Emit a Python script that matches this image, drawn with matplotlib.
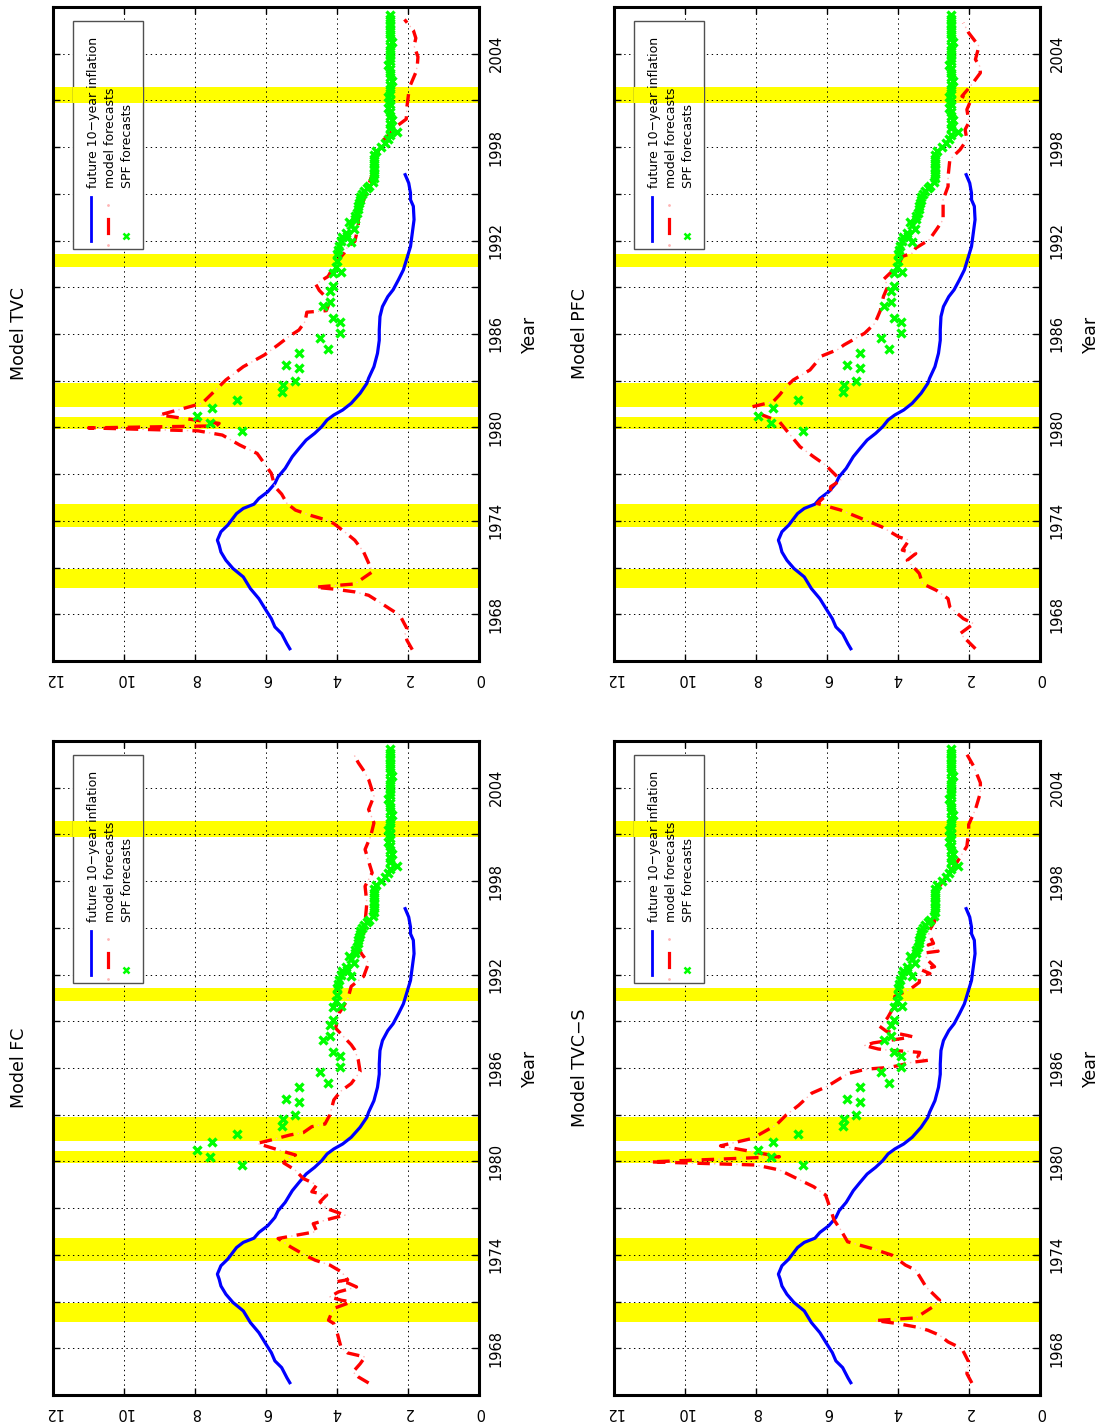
import numpy as np
import matplotlib.pyplot as plt
import matplotlib.transforms as mtransforms
from matplotlib.patches import Rectangle

plt.rcParams['lines.scale_dashes'] = False
plt.rcParams['font.family'] = 'DejaVu Sans'

# recession bands (years)
recession_start = [1969.67, 1973.6, 1979.9, 1981.33, 1990.33, 2000.84]
recession_end = [1970.92, 1975.1, 1980.65, 1982.87, 1991.15, 2001.87]

# realised average inflation over the following 10 years
future_years = [1965.79, 1966.1, 1966.76, 1967.19, 1967.72, 1968.26, 1969.0, 1969.65, 1970.4,
                1970.94, 1971.47, 1972.0, 1972.44, 1972.76, 1973.3, 1973.72, 1974.47, 1974.8,
                1975.07, 1975.44, 1975.87, 1976.4, 1976.83, 1977.37, 1978.12, 1978.65, 1979.19,
                1979.62, 1980.05, 1980.48, 1980.8, 1981.12, 1981.55, 1982.19, 1982.83, 1983.16,
                1983.9, 1984.76, 1985.6, 1986.26, 1987.12, 1987.76, 1988.4, 1988.84, 1989.48,
                1990.12, 1990.87, 1991.62, 1992.48, 1993.34, 1994.2, 1994.62, 1995.05, 1995.69,
                1996.23]
future_infl = [5.33, 5.41, 5.56, 5.75, 5.85, 6.0, 6.2, 6.44, 6.64,
               6.93, 7.13, 7.27, 7.32, 7.37, 7.27, 7.08, 6.83, 6.64,
               6.34, 6.2, 5.95, 5.75, 5.66, 5.46, 5.26, 5.07, 4.87,
               4.63, 4.43, 4.28, 4.09, 3.84, 3.6, 3.35, 3.16, 3.11,
               2.96, 2.86, 2.81, 2.81, 2.79, 2.72, 2.57, 2.42, 2.27,
               2.13, 2.03, 1.93, 1.88, 1.83, 1.85, 1.93, 1.93, 1.98,
               2.08]

# SPF long-run forecasts
spf_years = [1979.79, 1980.26, 1980.75, 1981.27, 1981.76, 1982.26, 1982.73, 1983.0, 1983.8,
             1984.0, 1984.77, 1985.06, 1985.77, 1986.05, 1986.78, 1987.0, 1987.82, 1988.07,
             1988.78, 1989.06, 1989.9, 1990.0, 1990.28, 1990.71, 1991.13, 1991.4, 1991.67,
             1991.9, 1992.0, 1992.2, 1992.3, 1992.5, 1992.75, 1993.0, 1993.2, 1993.4, 1993.6,
             1993.8, 1994.0, 1994.2, 1994.4, 1994.6, 1994.8, 1995.0, 1995.2, 1995.4, 1995.5,
             1995.75, 1996.0, 1996.25, 1996.5, 1996.75, 1997.0, 1997.25, 1997.5, 1997.75,
             1998.0, 1998.25, 1998.5, 1998.75, 1999.0, 1999.25, 1999.5, 1999.75, 2000.0,
             2000.25, 2000.5, 2000.75, 2001.0, 2001.25, 2001.5, 2001.75, 2002.0, 2002.25,
             2002.5, 2002.75, 2003.0, 2003.25, 2003.5, 2003.75, 2004.0, 2004.25, 2004.5,
             2004.75, 2005.0, 2005.25, 2005.5, 2005.75, 2006.0, 2006.25, 2006.5]
spf_values = [6.69, 7.57, 7.94, 7.52, 6.83, 5.56, 5.51, 5.19, 5.08,
              5.45, 5.08, 4.26, 4.47, 3.92, 3.92, 4.11, 4.4, 4.21,
              4.21, 4.1, 4.1, 3.88, 4.03, 4.0, 3.99, 3.97, 3.94,
              3.61, 3.9, 3.86, 3.71, 3.75, 3.51, 3.6, 3.65, 3.5, 3.48,
              3.45, 3.42, 3.4, 3.38, 3.36, 3.34, 3.3, 3.25, 3.15, 3.1,
              3.0, 2.97, 2.97, 2.97, 2.97, 2.97, 2.95, 2.95, 2.9,
              2.75, 2.65, 2.55, 2.5, 2.3, 2.5, 2.5, 2.45, 2.5,
              2.5, 2.55, 2.5, 2.5, 2.55, 2.5, 2.5, 2.5, 2.45,
              2.5, 2.5, 2.5, 2.55, 2.5, 2.5, 2.5, 2.5, 2.5,
              2.45, 2.5, 2.5, 2.5, 2.5, 2.5, 2.5, 2.5]

# model forecasts
fc_years = [1965.77, 1966.16, 1966.48, 1967.0, 1967.44, 1967.7, 1968.09, 1968.94, 1969.59,
            1969.8, 1970.55, 1970.98, 1971.08, 1971.3, 1971.62, 1971.94, 1972.2, 1972.28,
            1972.4, 1972.9, 1973.34, 1973.66, 1973.98, 1974.5, 1975.05, 1975.5, 1976.0,
            1976.34, 1976.55, 1976.97, 1977.4, 1977.84, 1978.05, 1978.5, 1978.9, 1979.45,
            1979.9, 1980.2, 1980.41, 1980.7, 1981.16, 1981.38, 1981.7, 1981.85, 1982.23,
            1982.4, 1983.0, 1983.95, 1984.5, 1985.0, 1985.77, 1986.5, 1987.16, 1987.49,
            1988.56, 1989.52, 1990.4, 1991.24, 1991.88, 1992.74, 1993.3, 1993.92, 1994.67,
            1995.6, 1996.6, 1997.67, 1998.53, 1999.2, 2000.03, 2000.9, 2001.74, 2002.6,
            2003.46, 2004.53, 2005.1, 2005.6, 2006.24]
fc_values = [3.11, 3.4, 3.55, 3.35, 3.21, 3.7, 3.89, 3.99, 4.09,
             4.24, 4.1, 3.59, 3.87, 4.2, 3.96, 3.45, 3.7, 4.0,
             3.7, 3.87, 4.2, 4.62, 4.9, 5.3, 5.66, 4.57, 4.67,
             4.15, 3.77, 4.29, 4.48, 4.29, 4.71, 4.57, 4.95, 5.18,
             5.5, 5.4, 5.17, 5.6, 6.25, 5.85, 5.32, 4.95, 4.71,
             4.34, 4.2, 4.09, 3.9, 3.6, 3.35, 3.4, 3.5, 3.6,
             4.04, 3.94, 3.7, 3.6, 3.25, 3.11, 3.3, 3.45, 3.25,
             3.2, 3.16, 3.21, 3.01, 3.1, 3.21, 3.05, 2.96, 3.11,
             2.96, 3.11, 3.25, 3.4, 3.55]

tvc_years = [1965.73, 1966.33, 1966.76, 1967.08, 1967.94, 1968.36, 1968.79, 1969.22, 1969.44,
             1969.62, 1969.74, 1969.95, 1970.72, 1971.04, 1972.0, 1972.76, 1973.23, 1973.83,
             1974.04, 1974.37, 1974.69, 1975.12, 1975.72, 1976.19, 1977.05, 1977.69, 1978.33,
             1978.87, 1979.51, 1979.78, 1979.97, 1980.1, 1980.26, 1980.8, 1981.55, 1982.4,
             1983.05, 1983.9, 1984.65, 1985.3, 1985.83, 1986.26, 1986.8, 1987.4, 1987.5,
             1988.1, 1988.8, 1989.2, 1989.7, 1990.55, 1991.2, 1991.6, 1991.95, 1992.9,
             1993.7, 1994.6, 1995.3, 1996.3, 1997.3, 1998.3, 1998.9, 1999.34, 1999.8,
             2000.6, 2001.5, 2002.0, 2002.8, 2003.2, 2003.8, 2004.5, 2005.0, 2005.5, 2006.2]
tvc_values = [1.88, 2.03, 2.08, 2.03, 2.23, 2.52, 2.81, 3.11, 3.5,
              4.09, 4.63, 3.5, 3.01, 3.06, 3.25, 3.5, 3.75, 4.09,
              4.28, 4.77, 5.17, 5.41, 5.56, 5.75, 5.85, 6.05, 6.25,
              6.74, 7.23, 7.91, 11.0, 7.4, 7.32, 9.0, 7.8, 7.42,
              7.13, 6.64, 6.05, 5.66, 5.36, 5.07, 4.9, 4.85, 4.3,
              4.2, 4.5, 4.6, 4.25, 4.04, 3.8, 3.7, 3.5, 3.4,
              3.4, 3.25, 3.15, 3.0, 2.9, 2.76, 2.5, 2.32, 2.05,
              2.03, 1.98, 1.93, 1.78, 1.74, 1.72, 1.83, 1.78, 1.85, 2.1]

pfc_years = [1965.79, 1966.22, 1966.76, 1967.4, 1967.72, 1968.47, 1969.0, 1969.54, 1969.97,
             1970.62, 1971.47, 1971.9, 1972.12, 1972.76, 1972.97, 1973.62, 1974.15, 1974.69,
             1975.12, 1975.87, 1976.19, 1976.62, 1976.83, 1977.58, 1978.12, 1978.76, 1979.83,
             1980.37, 1980.8, 1981.33, 1981.65, 1982.08, 1982.62, 1983.05, 1983.69, 1984.23,
             1984.55, 1985.0, 1985.3, 1986.05, 1986.69, 1987.5, 1988.41, 1989.0, 1989.26,
             1989.5, 1990.44, 1990.98, 1991.19, 1991.52, 1992.05, 1992.7, 1993.34, 1993.98,
             1994.62, 1995.48, 1996.12, 1997.2, 1997.84, 1998.48, 1999.13, 1999.6, 2000.41,
             2001.0, 2001.27, 2001.91, 2002.77, 2003.2, 2003.63, 2004.48, 2005.34, 2005.98]
pfc_values = [1.82, 2.01, 2.25, 1.87, 2.16, 2.54, 2.59, 2.92, 3.31,
              3.4, 3.74, 3.5, 3.88, 3.69, 3.98, 4.46, 5.03, 5.61,
              6.28, 5.9, 5.9, 5.61, 5.71, 6.04, 6.38, 6.76, 7.15,
              7.34, 7.82, 8.1, 7.52, 7.34, 7.15, 6.95, 6.48, 6.28,
              6.19, 5.7, 5.52, 4.94, 4.65, 4.5, 4.41, 4.3, 4.32,
              4.41, 3.98, 3.88, 3.6, 3.5, 3.12, 2.92, 2.73, 2.73,
              2.73, 2.59, 2.59, 2.54, 2.25, 2.06, 2.11, 2.0, 2.06,
              1.95, 2.2, 1.96, 1.68, 1.7, 1.82, 1.72, 2.01, 2.16]

tvcs_years = [1965.77, 1966.37, 1967.12, 1967.98, 1968.41, 1968.84, 1969.16, 1969.37, 1969.59,
              1969.78, 1969.95, 1970.66, 1971.09, 1971.94, 1973.02, 1973.34, 1973.98, 1974.41,
              1974.84, 1975.59, 1976.23, 1977.52, 1977.84, 1978.38, 1978.8, 1979.45, 1979.77,
              1979.97, 1980.3, 1981.0, 1981.48, 1982.34, 1982.98, 1983.6, 1984.38, 1984.81,
              1985.64, 1985.85, 1985.94, 1986.04, 1986.2, 1986.36, 1986.49, 1986.71, 1987.0,
              1987.07, 1987.13, 1987.22, 1987.44, 1987.61, 1988.0, 1988.08, 1988.36, 1988.68,
              1989.2, 1990.0, 1990.6, 1991.04, 1991.5, 1991.9, 1992.06, 1992.3, 1992.5,
              1993.0, 1993.4, 1993.5, 1993.9, 1994.0, 1994.7, 1995.4, 1996.38, 1997.67,
              1998.31, 1999.17, 2000.24, 2001.2, 2001.63, 2002.6, 2003.67, 2004.31, 2005.38,
              2006.14]
tvcs_values = [1.92, 2.06, 2.01, 2.2, 2.59, 2.83, 3.16, 3.5, 4.02,
               4.65, 3.5, 3.02, 2.83, 3.21, 3.5, 3.79, 4.17, 4.74,
               5.42, 5.61, 5.8, 5.99, 6.04, 6.38, 6.76, 7.34, 8.01,
               10.98, 7.34, 9.0, 8.1, 7.43, 7.15, 6.8, 6.43, 6.0,
               5.41, 5.03, 4.8, 4.23, 3.9, 3.62, 3.16, 3.44, 3.39,
               3.76, 4.23, 4.56, 4.94, 4.7, 3.58, 3.72, 4.33, 4.52,
               4.3, 4.1, 4.09, 3.67, 3.4, 3.39, 3.1, 3.34, 2.97,
               3.2, 3.2, 2.87, 3.15, 3.0, 3.15, 2.97, 2.92, 2.83,
               2.64, 2.35, 2.06, 2.01, 2.01, 1.82, 1.68, 1.68, 1.87,
               2.06]

infl_ticks = [0, 2, 4, 6, 8, 10, 12]
year_ticks = [1968, 1971, 1974, 1977, 1980, 1983, 1986, 1989, 1992, 1995, 1998, 2001, 2004]
year_labels = ['1968', '', '1974', '', '1980', '', '1986', '', '1992', '', '1998', '', '2004']
legend_labels = ['future 10\u2212year inflation', 'model forecasts', 'SPF forecasts']


def draw_panel(ax, title, model_years, model_values):
    ax.set_xlim(12, 0)
    ax.set_ylim(1965.0, 2007.0)
    for s, e in zip(recession_start, recession_end):
        ax.axhspan(s, e, color='#ffff00', lw=0, zorder=1)

    ax.plot(future_infl, future_years, color='#0000ff', lw=2.3, zorder=3)
    ax.plot(model_values, model_years, color='#ffb4b4', lw=1.0, ls=(4, (1, 15)), zorder=3)
    ax.plot(model_values, model_years, color='#ff0000', lw=2.4, ls=(0, (9, 7)), zorder=4)
    ax.plot(spf_values, spf_years, ls='none', marker='x', ms=6.3, mew=2.4,
            color='#00ff00', zorder=5)

    ax.set_xticks(infl_ticks)
    ax.set_xticklabels([str(v) for v in infl_ticks], rotation=180)
    ax.set_yticks(year_ticks)
    ax.set_yticklabels(year_labels, rotation=90, va='center')
    ax.yaxis.tick_right()
    ax.tick_params(axis='y', direction='in', left=True, right=True, labelsize=10.5,
                   pad=7, length=5, width=1)
    ax.tick_params(axis='x', direction='in', top=True, bottom=True, labelsize=10.5,
                   pad=7, length=5, width=1)
    ax.grid(True, color='black', ls=(0, (1, 2.5)), lw=0.7)
    for sp in ax.spines.values():
        sp.set_linewidth(2.2)

    ax.text(-0.08, 0.5, title, transform=ax.transAxes, rotation=90,
            ha='center', va='center', fontsize=12.5)
    ax.text(1.12, 0.5, 'Year', transform=ax.transAxes, rotation=90,
            ha='center', va='center', fontsize=12.5)

    # legend box (drawn by hand, text reads upward)
    bx0, by0, bw, bh = 0.0477, 0.6295, 0.163, 0.3495
    box = Rectangle((bx0, by0), bw, bh, transform=ax.transAxes, facecolor='white',
                    edgecolor='#505050', lw=1.0, zorder=2)
    ax.add_patch(box)
    blend = mtransforms.blended_transform_factory(ax.transAxes, ax.transData)
    for s, e in zip(recession_start, recession_end):
        r = Rectangle((bx0, s), bw, e - s, transform=blend, facecolor='#ffff00',
                      lw=0, zorder=2.1)
        ax.add_patch(r)
        r.set_clip_path(box)

    ax.plot([0.0892, 0.0892], [0.6427, 0.71], transform=ax.transAxes,
            color='#0000ff', lw=2.0, zorder=6)
    ax.plot([0.1298, 0.1298], [0.6544, 0.6758], transform=ax.transAxes,
            color='#ff0000', lw=2.3, zorder=6)
    ax.plot([0.1298, 0.1298], [0.636, 0.697], transform=ax.transAxes, ls='none',
            marker='.', ms=2, color='#ffb4b4', zorder=6)
    ax.plot([0.1707], [0.6503], transform=ax.transAxes, ls='none', marker='x',
            ms=4.5, mew=1.8, color='#00ff00', zorder=6)
    for xl, lab in zip([0.094, 0.134, 0.174], legend_labels):
        ax.text(xl, 0.7228, lab, transform=ax.transAxes, rotation=90,
                ha='center', va='bottom', fontsize=9, zorder=6)


fig = plt.figure(figsize=(10.98, 14.24), dpi=100)

panels = [
    ('Model TVC', tvc_years, tvc_values, [0.04827, 0.5358, 0.388, 0.4593]),
    ('Model FC', fc_years, fc_values, [0.04827, 0.02037, 0.388, 0.4593]),
    ('Model PFC', pfc_years, pfc_values, [0.5592, 0.5358, 0.388, 0.4593]),
    ('Model TVC\u2212S', tvcs_years, tvcs_values, [0.5592, 0.02037, 0.388, 0.4593]),
]

for title, yrs, vals, pos in panels:
    ax = fig.add_axes(pos)
    draw_panel(ax, title, yrs, vals)

fig.savefig('out.png', dpi=100)
